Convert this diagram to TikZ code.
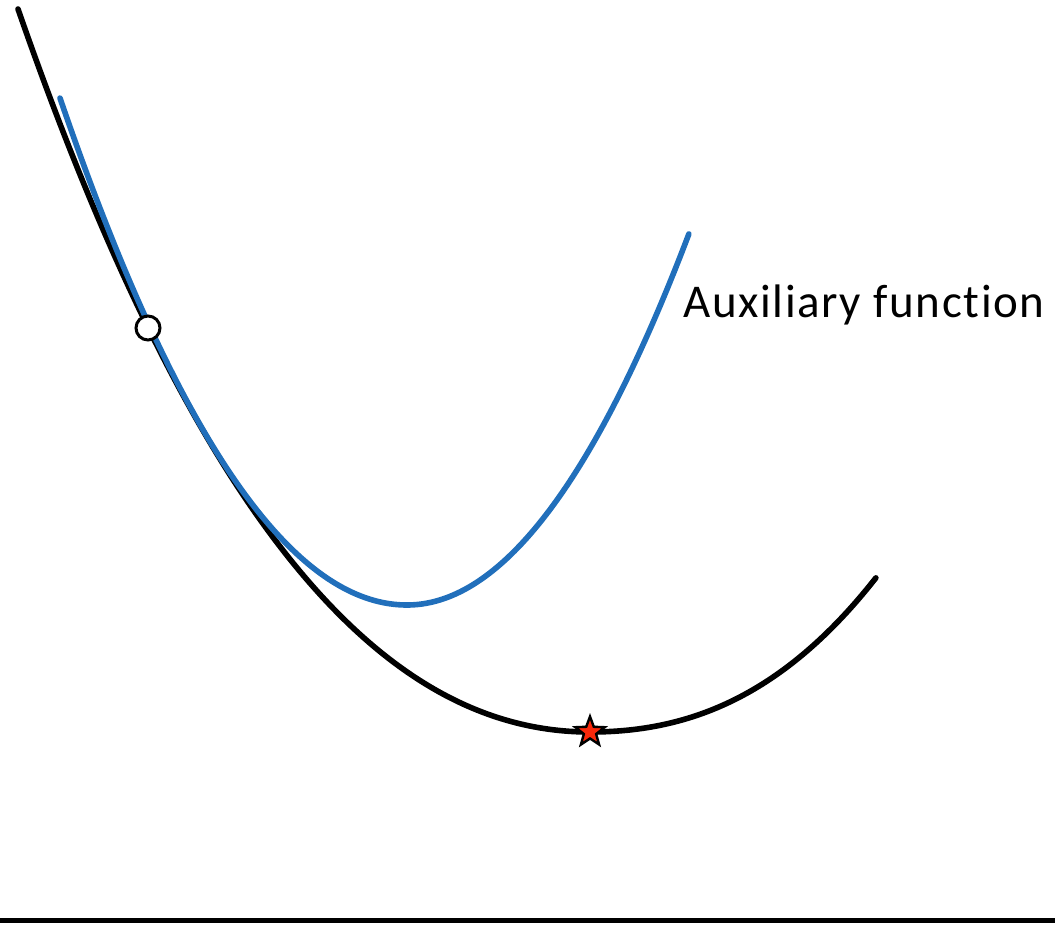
\documentclass[tikz,border=0pt]{standalone}
\usepackage{fontspec}
\setmainfont{Carlito}[Ligatures=NoCommon]
\newfontfamily\lblfont{Carlito}[Ligatures=NoCommon, LetterSpace=3.5]
\usetikzlibrary{shapes.geometric}
\definecolor{auxblue}{RGB}{33,111,187}
\definecolor{starred}{RGB}{250,40,10}
\tikzset{
  curve/.style={line width=5.6pt, line cap=round},
  marker/.style={circle, draw=black, fill=white, line width=3pt, minimum size=24pt, inner sep=0pt},
  optimum/.style={star, star points=5, star point ratio=2.4, draw=black, fill=starred, line width=2.4pt, minimum size=31pt, inner sep=0pt},
  lbl/.style={font=\lblfont\fontsize{47}{56}\selectfont, inner sep=0pt, anchor=base west}
}
\begin{document}
\begin{tikzpicture}[x=1pt,y=-1pt]
\useasboundingbox (0,0) rectangle (1055,932);
% objective function (black), u = (x-590)/100
\draw[curve, black] plot[domain=-5.72:2.86, samples=160, smooth]
  ({590+100*\x}, {732 - ((\x<0) ? (16*\x*\x - 1.066*\x*\x*\x) : (12*\x*\x + 2.4*\x*\x*\x))});
% auxiliary function (blue), u = (x-407)/100
\draw[curve, auxblue] plot[domain=-3.47:2.82, samples=140, smooth]
  ({407+100*\x}, {605 - ((\x<0) ? (42.1*\x*\x) : (46.7*\x*\x))});
% axis
\draw[line width=5pt] (0,920) coordinate (axl) -- (1055,920) coordinate (axr);
\node[marker] (cur) at (148,328) {};
\node[optimum] (opt) at (590,732) {};
\node[lbl] (aux) at (683,317) {Auxiliary function};
\end{tikzpicture}
\end{document}
